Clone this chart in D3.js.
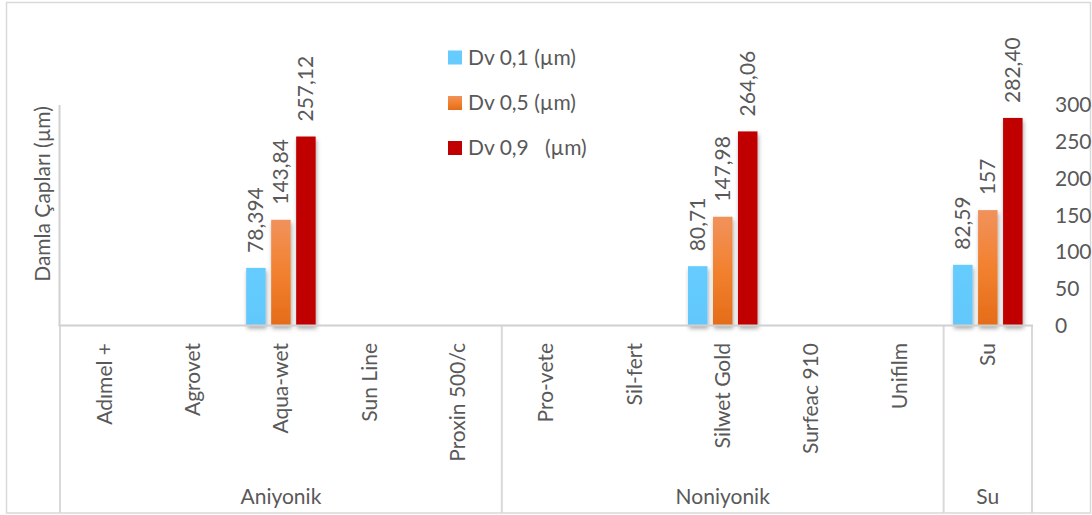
<!DOCTYPE html>
<html>
<head>
<meta charset="utf-8">
<script src="https://cdn.jsdelivr.net/npm/d3@7/dist/d3.min.js"></script>
<style>
  html, body { margin: 0; padding: 0; background: #fff; }
  svg text { font-family: Lato, "Liberation Sans", sans-serif; fill: #595959; }
</style>
</head>
<body>
<svg id="chart" width="1092" height="515"></svg>
<script>
// ---- data ----
const categories = ["Adımel +", "Agrovet", "Aqua-wet", "Sun Line", "Proxin 500/c",
                    "Pro-vete", "Sil-fert", "Silwet Gold", "Surfeac 910", "Unifilm", "Su"];
const groups = ["Aniyonik", "Noniyonik", "Su"];
const groupSizes = [5, 5, 1];
const seriesNames = ["Dv 0,1 (µm)", "Dv 0,5 (µm)", "Dv 0,9   (µm)"];
const dv01 = [null, null, 78.394, null, null, null, null, 80.71, null, null, 82.59];
const dv05 = [null, null, 143.84, null, null, null, null, 147.98, null, null, 157];
const dv09 = [null, null, 257.12, null, null, null, null, 264.06, null, null, 282.40];
const dv01Labels = [null, null, "78,394", null, null, null, null, "80,71", null, null, "82,59"];
const dv05Labels = [null, null, "143,84", null, null, null, null, "147,98", null, null, "157"];
const dv09Labels = [null, null, "257,12", null, null, null, null, "264,06", null, null, "282,40"];
const yTicks = [0, 50, 100, 150, 200, 250, 300];
const yTitle = "Damla Çapları (µm)";

// ---- layout ----
const svg = d3.select("#chart");
const plot = { left: 60, right: 1032, top: 105, bottom: 325.5 };
const catBottom = 513;
const FS = 21;

const x = d3.scaleBand().domain(d3.range(categories.length)).range([plot.left, plot.right]).padding(0);
const y = d3.scaleLinear().domain([0, 300]).range([plot.bottom, plot.top]);
const xs = d3.scaleBand().domain([0, 1, 2]).range([0, 69.5]).paddingInner(0.22).paddingOuter(0);
const xsOff = x.bandwidth() / 2 - 69.5 / 2;

const defs = svg.append("defs");
const f = defs.append("filter").attr("id", "shadow").attr("x", "-50%").attr("y", "-20%").attr("width", "200%").attr("height", "140%");
f.append("feDropShadow").attr("dx", 1).attr("dy", 3).attr("stdDeviation", 2.2)
  .attr("flood-color", "#000").attr("flood-opacity", 0.35);
const gOr = defs.append("linearGradient").attr("id", "gradOrange").attr("x1", 0).attr("y1", 0).attr("x2", 0).attr("y2", 1);
gOr.append("stop").attr("offset", "0%").attr("stop-color", "#F1925C");
gOr.append("stop").attr("offset", "50%").attr("stop-color", "#F2812F");
gOr.append("stop").attr("offset", "100%").attr("stop-color", "#E46C18");
const gBl = defs.append("linearGradient").attr("id", "gradBlue").attr("x1", 0).attr("y1", 0).attr("x2", 0).attr("y2", 1);
gBl.append("stop").attr("offset", "0%").attr("stop-color", "#66CCFF");
gBl.append("stop").attr("offset", "100%").attr("stop-color", "#62C8FC");

const fills = ["url(#gradBlue)", "url(#gradOrange)", "#C00000"];
const legendFills = ["#66CCFF", "url(#gradOrange)", "#C00000"];
const series = [dv01, dv05, dv09];
const labels = [dv01Labels, dv05Labels, dv09Labels];

// outer border
svg.append("rect").attr("x", 6.5).attr("y", 2.5).attr("width", 1084).attr("height", catBottom - 2.5)
  .attr("fill", "none").attr("stroke", "#D9D9D9").attr("stroke-width", 1.5);

// category box lines
const boxColor = "#D9D9D9";
let cum = 0;
const bounds = [0];
groupSizes.forEach(s => { cum += s; bounds.push(cum); });
bounds.forEach(b => {
  const xx = b < categories.length ? x(b) : plot.right;
  svg.append("line").attr("x1", xx).attr("x2", xx).attr("y1", plot.bottom).attr("y2", catBottom)
    .attr("stroke", boxColor).attr("stroke-width", 2);
});

// left axis line
svg.append("line").attr("x1", plot.left - 0.5).attr("x2", plot.left - 0.5).attr("y1", y(300)).attr("y2", plot.bottom)
  .attr("stroke", "#D0D0D0").attr("stroke-width", 2);

// bars
series.forEach((vals, si) => {
  svg.append("g").selectAll("rect")
    .data(vals.map((v, i) => ({ v, i })).filter(d => d.v != null))
    .join("rect")
    .attr("x", d => x(d.i) + xsOff + xs(si))
    .attr("y", d => y(d.v))
    .attr("width", xs.bandwidth())
    .attr("height", d => y(0) - y(d.v))
    .attr("fill", fills[si])
    .attr("filter", "url(#shadow)");
});

// zero line
svg.append("line").attr("x1", plot.left - 1.5).attr("x2", plot.right + 1).attr("y1", plot.bottom).attr("y2", plot.bottom)
  .attr("stroke", "#D0D0D0").attr("stroke-width", 2);

// data labels
series.forEach((vals, si) => {
  svg.append("g").selectAll("text")
    .data(vals.map((v, i) => ({ v, i, t: labels[si][i] })).filter(d => d.v != null))
    .join("text")
    .attr("transform", d => `translate(${x(d.i) + xsOff + xs(si) + xs.bandwidth() / 2},${y(d.v) - 15}) rotate(-90)`)
    .attr("dy", "0.35em")
    .attr("text-anchor", "start")
    .attr("font-size", FS)
    .text(d => d.t);
});

// right y axis labels
svg.append("g").selectAll("text").data(yTicks).join("text")
  .attr("x", 1055).attr("y", d => y(d)).attr("dy", "0.35em")
  .attr("font-size", FS).text(d => d);

// y title
svg.append("text")
  .attr("transform", `translate(43,194) rotate(-90)`)
  .attr("text-anchor", "middle").attr("dy", "0.35em")
  .attr("font-size", FS).text(yTitle);

// category labels
svg.append("g").selectAll("text").data(categories).join("text")
  .attr("transform", (d, i) => `translate(${x(i) + x.bandwidth() / 2},343) rotate(-90)`)
  .attr("text-anchor", "end").attr("dy", "0.35em")
  .attr("font-size", FS).text(d => d);

// group labels
svg.append("g").selectAll("text").data(groups).join("text")
  .attr("x", (d, gi) => {
    const a = x(bounds[gi]);
    const b = bounds[gi + 1] < categories.length ? x(bounds[gi + 1]) : plot.right;
    return (a + b) / 2;
  })
  .attr("y", 497).attr("dy", "0.35em").attr("text-anchor", "middle")
  .attr("font-size", FS).text(d => d);

// legend
const lg = svg.append("g");
const legY = [57.5, 103, 148];
seriesNames.forEach((n, i) => {
  lg.append("rect").attr("x", 448).attr("y", legY[i] - 7).attr("width", 14).attr("height", 14).attr("fill", legendFills[i]);
  lg.append("text").attr("x", 468).attr("y", legY[i]).attr("dy", "0.35em")
    .attr("font-size", FS).style("white-space", "pre").attr("xml:space", "preserve").text(n);
});
</script>
</body>
</html>
